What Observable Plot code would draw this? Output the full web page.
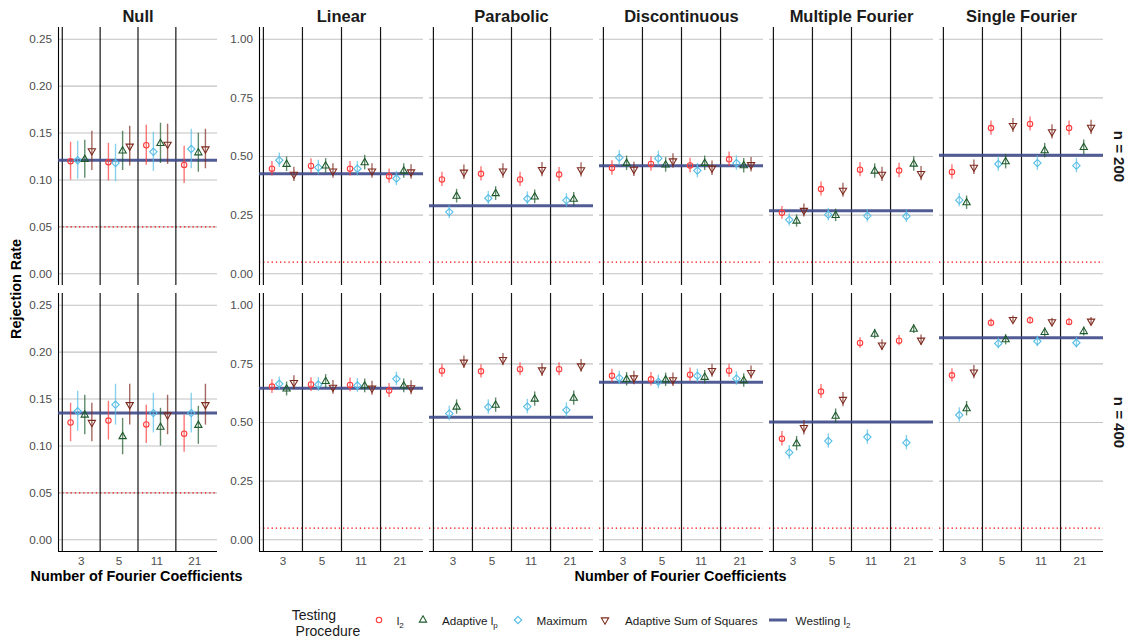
<!DOCTYPE html>
<html>
<head>
<meta charset="utf-8">
<script src="https://cdn.jsdelivr.net/npm/d3@7"></script>
<script src="https://cdn.jsdelivr.net/npm/@observablehq/plot@0.6"></script>
<style>
  body { margin: 0; background: #fff; font-family: "Liberation Sans", Arial, Helvetica, sans-serif; }
  #chart { position: relative; width: 1131px; height: 643px; overflow: hidden; background: #fff; }
  #chart > svg { position: absolute; top: 0; left: 0; }
  .axis-title { position: absolute; font-weight: bold; font-size: 14.4px; color: #000; white-space: nowrap; transform: translate(-50%, -50%); }
  .legend-text { position: absolute; font-size: 11.7px; color: #1a1a1a; white-space: nowrap; transform: translateY(-50%); }
  .legend-text sub { font-size: 8px; vertical-align: -3px; line-height: 0; }
  .legend-title { position: absolute; font-size: 14px; color: #1a1a1a; white-space: pre; line-height: 16px; }
  .legend-key { position: absolute; }
</style>
</head>
<body>
<div id="chart"></div>
<script>
// ---- data -------------------------------------------------------------
const functionNames = ["Null", "Linear", "Parabolic", "Discontinuous", "Multiple Fourier", "Single Fourier"];
const sampleSizes = [200, 400];
const coefLabels = ["3", "5", "11", "21"];
// dodge order inside each coefficient group
const procedures = ["l2", "Maximum", "Adaptive lp", "Adaptive Sum of Squares"];
const nSim = 1000; // Monte Carlo replications behind each rejection rate

// rejection rates: one row per alternative (functionNames order), one column per coefficient count
const l2_n200 = [
  [0.120, 0.119, 0.137, 0.116],
  [0.448, 0.460, 0.448, 0.416],
  [0.402, 0.426, 0.402, 0.423],
  [0.451, 0.468, 0.462, 0.488],
  [0.260, 0.361, 0.444, 0.440],
  [0.434, 0.621, 0.639, 0.621]
];
const max_n200 = [
  [0.121, 0.118, 0.130, 0.133],
  [0.484, 0.453, 0.448, 0.406],
  [0.263, 0.322, 0.320, 0.313],
  [0.495, 0.492, 0.440, 0.472],
  [0.230, 0.252, 0.247, 0.245],
  [0.314, 0.468, 0.472, 0.461]
];
const lp_n200 = [
  [0.122, 0.131, 0.139, 0.129],
  [0.467, 0.460, 0.474, 0.438],
  [0.331, 0.342, 0.328, 0.318],
  [0.471, 0.464, 0.471, 0.461],
  [0.225, 0.249, 0.438, 0.468],
  [0.303, 0.478, 0.525, 0.539]
];
const ass_n200 = [
  [0.131, 0.136, 0.138, 0.133],
  [0.424, 0.438, 0.438, 0.434],
  [0.433, 0.438, 0.444, 0.443],
  [0.445, 0.481, 0.450, 0.465],
  [0.270, 0.356, 0.424, 0.427],
  [0.454, 0.632, 0.605, 0.624]
];
const l2_n400 = [
  [0.125, 0.127, 0.123, 0.113],
  [0.653, 0.662, 0.660, 0.636],
  [0.721, 0.718, 0.727, 0.727],
  [0.699, 0.684, 0.704, 0.721],
  [0.431, 0.632, 0.839, 0.849],
  [0.701, 0.925, 0.936, 0.929]
];
const max_n400 = [
  [0.137, 0.144, 0.135, 0.135],
  [0.665, 0.662, 0.658, 0.686],
  [0.538, 0.566, 0.568, 0.553],
  [0.690, 0.673, 0.699, 0.687],
  [0.372, 0.421, 0.438, 0.414],
  [0.532, 0.837, 0.846, 0.840]
];
const lp_n400 = [
  [0.133, 0.110, 0.120, 0.122],
  [0.643, 0.675, 0.656, 0.656],
  [0.566, 0.574, 0.600, 0.604],
  [0.684, 0.682, 0.693, 0.679],
  [0.410, 0.527, 0.877, 0.898],
  [0.559, 0.853, 0.884, 0.888]
];
const ass_n400 = [
  [0.125, 0.144, 0.133, 0.144],
  [0.670, 0.650, 0.646, 0.648],
  [0.757, 0.768, 0.724, 0.741],
  [0.690, 0.682, 0.721, 0.713],
  [0.478, 0.598, 0.830, 0.851],
  [0.715, 0.939, 0.929, 0.932]
];
// Westling l2 reference rate per alternative
const westling_n200 = [0.121, 0.426, 0.290, 0.461, 0.269, 0.505];
const westling_n400 = [0.135, 0.646, 0.522, 0.672, 0.502, 0.861];
const nominalLevel = 0.05;

// ---- tidy tables ---------------------------------------------------------
const rateTables = [
  {proc: procedures[0], 200: l2_n200, 400: l2_n400},
  {proc: procedures[1], 200: max_n200, 400: max_n400},
  {proc: procedures[2], 200: lp_n200, 400: lp_n400},
  {proc: procedures[3], 200: ass_n200, 400: ass_n400}
];
const dodge = [-0.28125, -0.09375, 0.09375, 0.28125];
const rows = [];
rateTables.forEach((t, pi) => sampleSizes.forEach(n => t[n].forEach((vals, fi) => vals.forEach((rate, ki) => {
  const half = 1.96 * Math.sqrt(rate * (1 - rate) / nSim);
  rows.push({proc: t.proc, n, fn: functionNames[fi], x: ki + 1 + dodge[pi], rate, lo: rate - half, hi: rate + half});
}))));
const westRows = [];
[westling_n200, westling_n400].forEach((arr, si) => arr.forEach((rate, fi) =>
  westRows.push({fn: functionNames[fi], n: sampleSizes[si], rate})));

// ---- styling ---------------------------------------------------------------
const fontFamily = '"Liberation Sans", Arial, Helvetica, sans-serif';
const procColors = ["#FF3B3B", "#56BDE6", "#1E5A2C", "#7D2A1E"];
const triangleDown = {
  draw(context, size) {
    const s3 = Math.sqrt(3);
    const y = -Math.sqrt(size / (s3 * 3));
    context.moveTo(0, -y * 2);
    context.lineTo(-s3 * y, y);
    context.lineTo(s3 * y, y);
    context.closePath();
  }
};
const procSymbols = ["circle", "diamond2", "triangle", triangleDown];
const procRadius = [2.7, 3.3, 2.7, 2.7];
const xDomain = [0.4, 4.6];
const groupBounds = [0.5, 1.5, 2.5, 3.5];

function panelMarks(data, west, yDomain, yTicks, leftFn) {
  return [
    Plot.gridY(yTicks, {stroke: "#c2c2c2", strokeOpacity: 1, strokeWidth: 1.1}),
    Plot.ruleY([nominalLevel], {stroke: "#ff0000", strokeWidth: 1.3, strokeDasharray: "1.3,2.9"}),
    Plot.ruleX(groupBounds, {stroke: "#151515", strokeWidth: 1.2}),
    Plot.ruleX([{fn: leftFn}], {x: () => xDomain[0], fx: "fn", stroke: "#000", strokeWidth: 1.1}),
    Plot.ruleY([{n: 400}], {y: () => yDomain[0], fy: "n", stroke: "#000", strokeWidth: 1.1}),
    Plot.ruleY(west, {y: "rate", fx: "fn", fy: "n", stroke: "#3E4A89", strokeOpacity: 0.9, strokeWidth: 3}),
    Plot.ruleX(data, {x: "x", y1: "lo", y2: "hi", fx: "fn", fy: "n", stroke: "proc", strokeWidth: 1.4, strokeOpacity: 0.7}),
    ...procedures.map((p, i) => Plot.dot(data.filter(d => d.proc === p), {
      x: "x", y: "rate", fx: "fn", fy: "n", stroke: "proc", fill: "none",
      symbol: procSymbols[i], r: procRadius[i], strokeWidth: 1.1
    })),
    Plot.axisY({ticks: yTicks, tickFormat: d3.format(".2f"), tickSize: 0, tickPadding: 6.5,
      fontSize: 11.7, color: "#4d4d4d", label: null}),
    Plot.axisX({ticks: [1, 2, 3, 4], tickFormat: i => coefLabels[i - 1], tickSize: 0, tickPadding: 5,
      fontSize: 11.7, color: "#4d4d4d", label: null}),
    Plot.axisFx({anchor: "top", tickSize: 0, tickPadding: 6, fontSize: 16.5, fontWeight: "bold",
      color: "#1a1a1a", label: null})
  ];
}

const chart = document.getElementById("chart");
const common = {
  height: 643, marginTop: 27, marginBottom: 91,
  style: {fontFamily, background: "transparent", overflow: "visible"},
  x: {domain: xDomain},
  color: {domain: procedures, range: procColors}
};

// five alternatives sharing a 0–1 axis
const mainYDomain = [-0.05, 1.05];
const mainRows = rows.filter(d => d.fn !== "Null");
const mainPlot = Plot.plot({
  ...common,
  width: 1131, marginLeft: 258.6, marginRight: 28.6,
  fx: {domain: functionNames.slice(1), paddingInner: 0.0365, paddingOuter: 0},
  fy: {domain: sampleSizes, paddingInner: 0.03, paddingOuter: 0},
  y: {domain: mainYDomain},
  marks: [
    ...panelMarks(mainRows, westRows.filter(d => d.fn !== "Null"), mainYDomain, [0, 0.25, 0.5, 0.75, 1], "Linear"),
    Plot.axisFy({anchor: "right", tickRotate: 90, tickSize: 0, tickPadding: 21, fontSize: 15,
      fontWeight: "bold", color: "#1a1a1a", tickFormat: d => `n = ${d}`, label: null})
  ]
});
chart.appendChild(mainPlot);

// null hypothesis panel on its own finer axis
const nullYDomain = [-0.0125, 0.2625];
const nullPlot = Plot.plot({
  ...common,
  width: 230, marginLeft: 57.2, marginRight: 13.2,
  fx: {domain: ["Null"], padding: 0},
  fy: {domain: sampleSizes, paddingInner: 0.03, paddingOuter: 0, axis: null},
  y: {domain: nullYDomain},
  marks: panelMarks(rows.filter(d => d.fn === "Null"), westRows.filter(d => d.fn === "Null"),
    nullYDomain, [0, 0.05, 0.1, 0.15, 0.2, 0.25], "Null")
});
chart.appendChild(nullPlot);

// ---- axis titles -------------------------------------------------------------
function addText(cls, text, left, top, extra) {
  const el = document.createElement("div");
  el.className = cls;
  el.textContent = text;
  el.style.left = left + "px";
  el.style.top = top + "px";
  if (extra) Object.assign(el.style, extra);
  chart.appendChild(el);
  return el;
}
addText("axis-title", "Rejection Rate", 15.5, 289, {transform: "translate(-50%, -50%) rotate(-90deg)"});
addText("axis-title", "Number of Fourier Coefficients", 136.5, 576);
addText("axis-title", "Number of Fourier Coefficients", 680.5, 576);

// ---- legend ------------------------------------------------------------------
const legendTitle = "Testing\n Procedure";
// labels in procedures order
const legendLabels = [["l", "2"], ["Maximum", ""], ["Adaptive l", "p"], ["Adaptive Sum of Squares", ""]];
const legendOrder = [0, 2, 1, 3]; // procedure index shown in each legend slot
const westlingLabel = ["Westling l", "2"];
const legendY = 620;
const keyX = [379.4, 423.4, 518, 605];
const labelX = [396.7, 442, 536.5, 625];

addText("legend-title", legendTitle, 291.7, 607);

function addLabel(parts, left) {
  const el = document.createElement("div");
  el.className = "legend-text";
  el.style.left = left + "px";
  el.style.top = legendY + "px";
  el.appendChild(document.createTextNode(parts[0]));
  if (parts[1]) {
    const sub = document.createElement("sub");
    sub.textContent = parts[1];
    el.appendChild(sub);
  }
  chart.appendChild(el);
}
legendOrder.forEach((pi, slot) => {
  const svg = d3.create("svg").attr("class", "legend-key")
    .attr("width", 14).attr("height", 14)
    .style("left", (keyX[slot] - 7) + "px").style("top", (legendY - 7) + "px");
  const type = typeof procSymbols[pi] === "string"
    ? {circle: d3.symbolCircle, diamond2: d3.symbolDiamond2, triangle: d3.symbolTriangle}[procSymbols[pi]]
    : procSymbols[pi];
  svg.append("path")
    .attr("transform", "translate(7,7)")
    .attr("d", d3.symbol(type, Math.PI * procRadius[pi] ** 2)())
    .attr("fill", "none").attr("stroke", procColors[pi]).attr("stroke-width", 1.1);
  chart.appendChild(svg.node());
  addLabel(legendLabels[pi], labelX[slot]);
});
const lineKey = d3.create("svg").attr("class", "legend-key")
  .attr("width", 18).attr("height", 8)
  .style("left", "769px").style("top", (legendY - 4) + "px");
lineKey.append("line").attr("x1", 0).attr("x2", 18).attr("y1", 4).attr("y2", 4)
  .attr("stroke", "#3E4A89").attr("stroke-opacity", 0.9).attr("stroke-width", 3);
chart.appendChild(lineKey.node());
addLabel(westlingLabel, 795.6);
</script>
</body>
</html>
